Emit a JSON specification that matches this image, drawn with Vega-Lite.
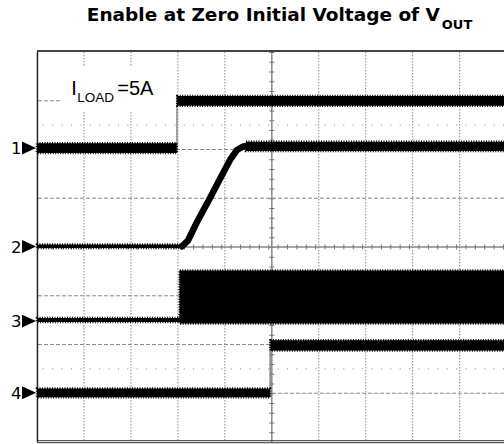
{
  "$schema": "https://vega.github.io/schema/vega-lite/v6.json",
  "width": 467,
  "height": 390,
  "autosize": {"type": "none"},
  "padding": {"left": 37, "top": 52, "right": 0, "bottom": 2},
  "background": "white",
  "config": {"view": {"stroke": null}, "axis": {"disable": true}},
  "layer": [
    {
      "data": {"values": [{"x": 1}, {"x": 2}, {"x": 3}, {"x": 4}, {"x": 6}, {"x": 7}, {"x": 8}, {"x": 9}]},
      "mark": {"type": "rule", "color": "#8a8a8a", "strokeWidth": 1, "strokeDash": [1.5, 1.5]},
      "encoding": {"x": {"field": "x", "type": "quantitative", "scale": {"domain": [0, 9.944], "nice": false, "zero": false}, "axis": null}}
    },
    {
      "data": {"values": [{"y": 1}, {"y": 2}, {"y": 3}, {"y": 5}, {"y": 6}, {"y": 7}]},
      "mark": {"type": "rule", "color": "#8a8a8a", "strokeWidth": 1, "strokeDash": [4, 2]},
      "encoding": {"y": {"field": "y", "type": "quantitative", "scale": {"domain": [0, 8], "nice": false, "zero": false}, "axis": null}}
    },
    {
      "data": {"values": [{"y": 1.5}, {"y": 6.5}]},
      "mark": {"type": "rule", "color": "#888888", "strokeWidth": 1, "strokeDash": [1, 8.392]},
      "encoding": {"y": {"field": "y", "type": "quantitative"}}
    },
    {
      "data": {"values": [{"x": 5}]},
      "mark": {"type": "rule", "color": "#888888", "strokeWidth": 1.5},
      "encoding": {"x": {"field": "x", "type": "quantitative"}}
    },
    {
      "data": {"values": [{"x": 5}]},
      "mark": {"type": "rule", "color": "#777777", "strokeWidth": 5, "strokeDash": [1, 8.75]},
      "encoding": {"x": {"field": "x", "type": "quantitative"}}
    },
    {
      "data": {"values": [{"y": 4}]},
      "mark": {"type": "rule", "color": "#888888", "strokeWidth": 1.5},
      "encoding": {"y": {"field": "y", "type": "quantitative"}}
    },
    {
      "data": {"values": [{"y": 4}]},
      "mark": {"type": "rule", "color": "#777777", "strokeWidth": 5, "strokeDash": [1, 8.392]},
      "encoding": {"y": {"field": "y", "type": "quantitative"}}
    },
    {
      "data": {"values": [{"x": 0.53, "x2": 2.91, "y": 6.77, "y2": 7.71}]},
      "mark": {"type": "rect", "fill": "white", "strokeWidth": 0},
      "encoding": {
        "x": {"field": "x", "type": "quantitative"}, "x2": {"field": "x2"},
        "y": {"field": "y", "type": "quantitative"}, "y2": {"field": "y2"}
      }
    },
    {
      "data": {"values": [{"x": 0.01}]},
      "mark": {"type": "rule", "color": "#222222", "strokeWidth": 1.5},
      "encoding": {"x": {"field": "x", "type": "quantitative"}}
    },
    {
      "data": {"values": [{"y": 8.02}]},
      "mark": {"type": "rule", "color": "#444444", "strokeWidth": 2},
      "encoding": {"y": {"field": "y", "type": "quantitative"}}
    },
    {
      "data": {"values": [{"y": 0.026}, {"y": -0.015}]},
      "mark": {"type": "rule", "color": "#333333", "strokeWidth": 1},
      "encoding": {"y": {"field": "y", "type": "quantitative"}}
    },
    {
      "data": {"values": [
        {"ch": "1", "x": 2.98, "y": 5.93, "y2": 7.1},
        {"ch": "3", "x": 3.04, "y": 2.46, "y2": 3.52},
        {"ch": "4", "x": 4.965, "y": 0.92, "y2": 2.085}
      ]},
      "mark": {"type": "rule", "color": "#888888", "strokeWidth": 1.5},
      "encoding": {
        "x": {"field": "x", "type": "quantitative"},
        "y": {"field": "y", "type": "quantitative"}, "y2": {"field": "y2"}
      }
    },
    {
      "data": {"values": [
        {"ch": "1", "x": 0, "x2": 2.975, "y": 5.93, "y2": 6.13},
        {"ch": "1", "x": 2.985, "x2": 9.944, "y": 6.9, "y2": 7.1},
        {"ch": "2", "x": 0, "x2": 3.1, "y": 3.979, "y2": 4.051},
        {"ch": "2", "x": 4.45, "x2": 9.944, "y": 5.97, "y2": 6.16},
        {"ch": "3", "x": 0, "x2": 3.06, "y": 2.462, "y2": 2.544},
        {"ch": "3", "x": 3.04, "x2": 9.944, "y": 2.431, "y2": 3.518},
        {"ch": "4", "x": 0, "x2": 4.96, "y": 0.92, "y2": 1.1},
        {"ch": "4", "x": 4.97, "x2": 9.944, "y": 1.875, "y2": 2.085}
      ]},
      "mark": {"type": "rect", "fill": "black", "stroke": "black", "strokeWidth": 2.5, "strokeDash": [1, 1.5]},
      "encoding": {
        "x": {"field": "x", "type": "quantitative"}, "x2": {"field": "x2"},
        "y": {"field": "y", "type": "quantitative"}, "y2": {"field": "y2"}
      }
    },
    {
      "data": {"values": [
        {"i": 1, "x": 3.088, "y": 4.014},
        {"i": 2, "x": 3.215, "y": 4.133},
        {"i": 3, "x": 3.407, "y": 4.513},
        {"i": 4, "x": 3.684, "y": 5.005},
        {"i": 5, "x": 3.94, "y": 5.477},
        {"i": 6, "x": 4.11, "y": 5.785},
        {"i": 7, "x": 4.259, "y": 5.99},
        {"i": 8, "x": 4.387, "y": 6.062},
        {"i": 9, "x": 4.536, "y": 6.065}
      ]},
      "mark": {"type": "line", "color": "black", "strokeWidth": 6.5, "strokeJoin": "round", "strokeCap": "round"},
      "encoding": {
        "x": {"field": "x", "type": "quantitative"},
        "y": {"field": "y", "type": "quantitative"},
        "order": {"field": "i", "type": "quantitative"}
      }
    },
    {
      "data": {"values": [{"n": "1", "y": 6.03}, {"n": "2", "y": 4.01}, {"n": "3", "y": 2.48}, {"n": "4", "y": 1.01}]},
      "layer": [
        {
          "mark": {"type": "point", "shape": "M-1,-0.92L1,0L-1,0.92Z", "size": 196, "filled": true, "color": "black", "opacity": 1, "strokeWidth": 0},
          "encoding": {
            "x": {"datum": -0.17, "type": "quantitative"},
            "y": {"field": "y", "type": "quantitative"}
          }
        },
        {
          "mark": {"type": "text", "align": "right", "baseline": "alphabetic", "dy": 6, "font": "DejaVu Sans", "fontSize": 16.5, "color": "black"},
          "encoding": {
            "x": {"datum": -0.33, "type": "quantitative"},
            "y": {"field": "y", "type": "quantitative"},
            "text": {"field": "n"}
          }
        }
      ]
    },
    {
      "data": {"values": [{"t": "Enable at Zero Initial Voltage of V", "x": 4.82, "y": 8.636}]},
      "mark": {"type": "text", "align": "center", "baseline": "alphabetic", "font": "DejaVu Sans", "fontWeight": "bold", "fontSize": 18.5, "color": "black"},
      "encoding": {"x": {"field": "x", "type": "quantitative"}, "y": {"field": "y", "type": "quantitative"}, "text": {"field": "t"}}
    },
    {
      "data": {"values": [{"t": "OUT", "x": 8.62, "y": 8.465}]},
      "mark": {"type": "text", "align": "left", "baseline": "alphabetic", "font": "DejaVu Sans", "fontWeight": "bold", "fontSize": 13, "color": "black"},
      "encoding": {"x": {"field": "x", "type": "quantitative"}, "y": {"field": "y", "type": "quantitative"}, "text": {"field": "t"}}
    },
    {
      "data": {"values": [{"t": "I", "x": 0.73, "y": 7.118}, {"t": "=5A", "x": 1.71, "y": 7.118}]},
      "mark": {"type": "text", "align": "left", "baseline": "alphabetic", "font": "Liberation Sans", "fontSize": 20, "color": "black"},
      "encoding": {"x": {"field": "x", "type": "quantitative"}, "y": {"field": "y", "type": "quantitative"}, "text": {"field": "t"}}
    },
    {
      "data": {"values": [{"t": "LOAD", "x": 0.858, "y": 6.98}]},
      "mark": {"type": "text", "align": "left", "baseline": "alphabetic", "font": "Liberation Sans", "fontSize": 13.5, "color": "black"},
      "encoding": {"x": {"field": "x", "type": "quantitative"}, "y": {"field": "y", "type": "quantitative"}, "text": {"field": "t"}}
    }
  ]
}
